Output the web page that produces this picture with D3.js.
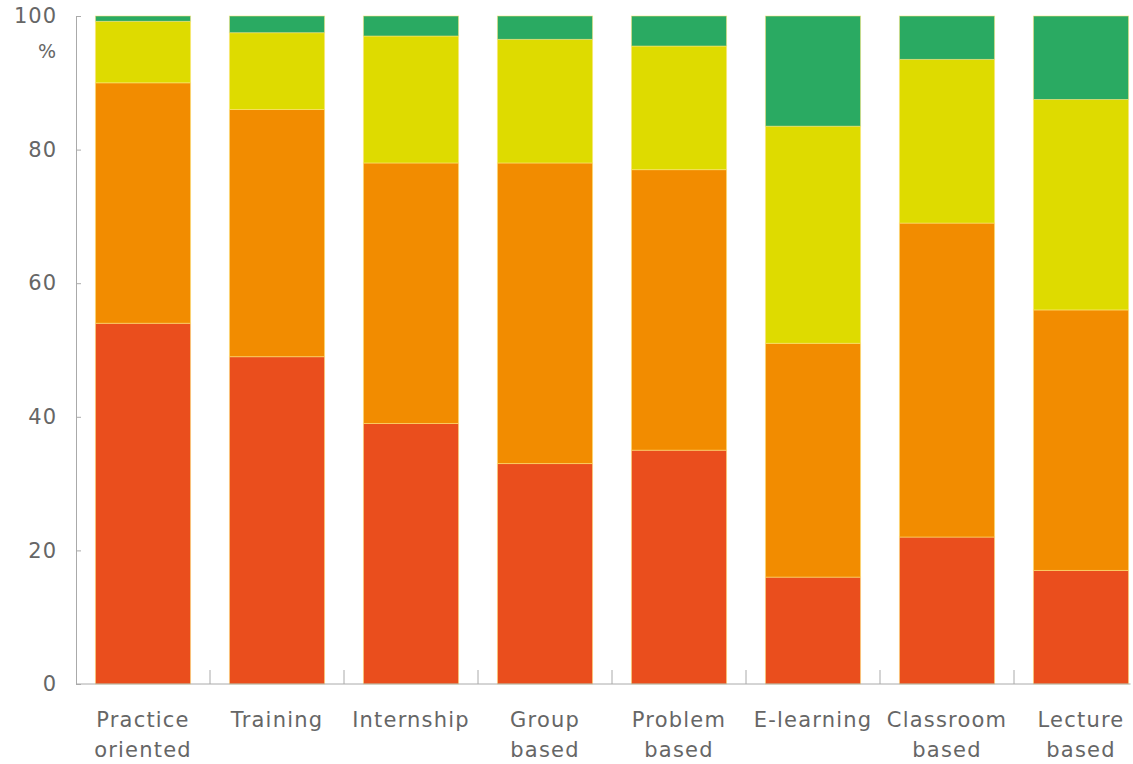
<!DOCTYPE html>
<html>
<head>
<meta charset="utf-8">
<script src="https://cdn.jsdelivr.net/npm/d3@7"></script>
<style>
  body { margin: 0; background: #fff; }
  svg { display: block; }
</style>
</head>
<body>
<div id="chart"></div>
<script>
// Categories (two label lines each)
const categories = ["Practice oriented", "Training", "Internship", "Group based",
  "Problem based", "E-learning", "Classroom based", "Lecture based"];
const labelLines = [["Practice", "oriented"], ["Training"], ["Internship"], ["Group", "based"],
  ["Problem", "based"], ["E-learning"], ["Classroom", "based"], ["Lecture", "based"]];

// Series values (%), bottom to top
const seriesKeys = ["s1", "s2", "s3", "s4"];
const s1 = [54, 49, 39, 33, 35, 16, 22, 17];
const s2 = [36, 37, 39, 45, 42, 35, 47, 39];
const s3 = [9.2, 11.5, 19, 18.5, 18.5, 32.5, 24.5, 31.5];
const s4 = [0.8, 2.5, 3, 3.5, 4.5, 16.5, 6.5, 12.5];
const yTicks = [0, 20, 40, 60, 80, 100];

const colors = ["#ea4e1d", "#f28c00", "#dedb00", "#2aaa62"];

const W = 1133, H = 764;
const margin = { top: 16, right: -15, bottom: 80, left: 76 };
const width = W - margin.left - margin.right;
const height = H - margin.top - margin.bottom;

const data = categories.map((c, i) => ({ cat: c, s1: s1[i], s2: s2[i], s3: s3[i], s4: s4[i] }));

const svg = d3.select("#chart").append("svg")
  .attr("width", W).attr("height", H);
const g = svg.append("g")
  .attr("transform", "translate(" + margin.left + "," + margin.top + ")");

const x = d3.scaleBand()
  .domain(categories)
  .range([0, width])
  .paddingInner(0.29)
  .paddingOuter(0.145);

const y = d3.scaleLinear().domain([0, 100]).range([height, 0]);

const stack = d3.stack().keys(seriesKeys)(data);

g.selectAll("g.layer")
  .data(stack)
  .enter().append("g")
  .attr("class", "layer")
  .attr("fill", (d, i) => colors[i])
  .selectAll("rect")
  .data(d => d)
  .enter().append("rect")
  .attr("x", d => x(d.data.cat))
  .attr("y", d => y(d[1]))
  .attr("width", x.bandwidth())
  .attr("height", d => y(d[0]) - y(d[1]))
  .attr("stroke", "rgba(255,230,120,0.55)")
  .attr("stroke-width", 1);

// Left axis
const yAxis = g.append("g")
  .call(d3.axisLeft(y).tickValues(yTicks).tickSize(-5).tickPadding(19));
yAxis.select(".domain").attr("stroke", "#aaa");
yAxis.selectAll(".tick line").attr("stroke", "#aaa");
yAxis.selectAll("text")
  .attr("fill", "#666")
  .style("font-family", "DejaVu Sans, sans-serif")
  .style("font-size", "21px")
  .style("letter-spacing", "1px");

g.append("text")
  .attr("x", -20).attr("y", y(100) + 42)
  .attr("text-anchor", "end")
  .attr("fill", "#666")
  .style("font-family", "DejaVu Sans, sans-serif")
  .style("font-size", "19px")
  .text("%");

// Bottom axis: baseline with tick marks between bars
g.append("line")
  .attr("x1", 0).attr("x2", x.range()[1] - x.step() * 0.145 + 2)
  .attr("y1", height).attr("y2", height)
  .attr("stroke", "#aaa");

const bounds = categories.slice(1).map(c => x(c) - x.step() * x.paddingInner() / 2);
g.selectAll("line.sep")
  .data(bounds)
  .enter().append("line")
  .attr("class", "sep")
  .attr("x1", d => d).attr("x2", d => d)
  .attr("y1", height).attr("y2", height - 14)
  .attr("stroke", "#aaa");

// Category labels
const lbl = g.selectAll("text.cat")
  .data(categories)
  .enter().append("text")
  .attr("class", "cat")
  .attr("x", d => x(d) + x.bandwidth() / 2)
  .attr("y", height + 43)
  .attr("text-anchor", "middle")
  .attr("fill", "#666")
  .style("font-family", "DejaVu Sans, sans-serif")
  .style("font-size", "21px")
  .style("letter-spacing", "1.2px");

lbl.each(function (d, i) {
  const t = d3.select(this);
  labelLines[i].forEach((line, j) => {
    t.append("tspan")
      .attr("x", x(d) + x.bandwidth() / 2)
      .attr("dy", j === 0 ? 0 : 30)
      .text(line);
  });
});
</script>
</body>
</html>
